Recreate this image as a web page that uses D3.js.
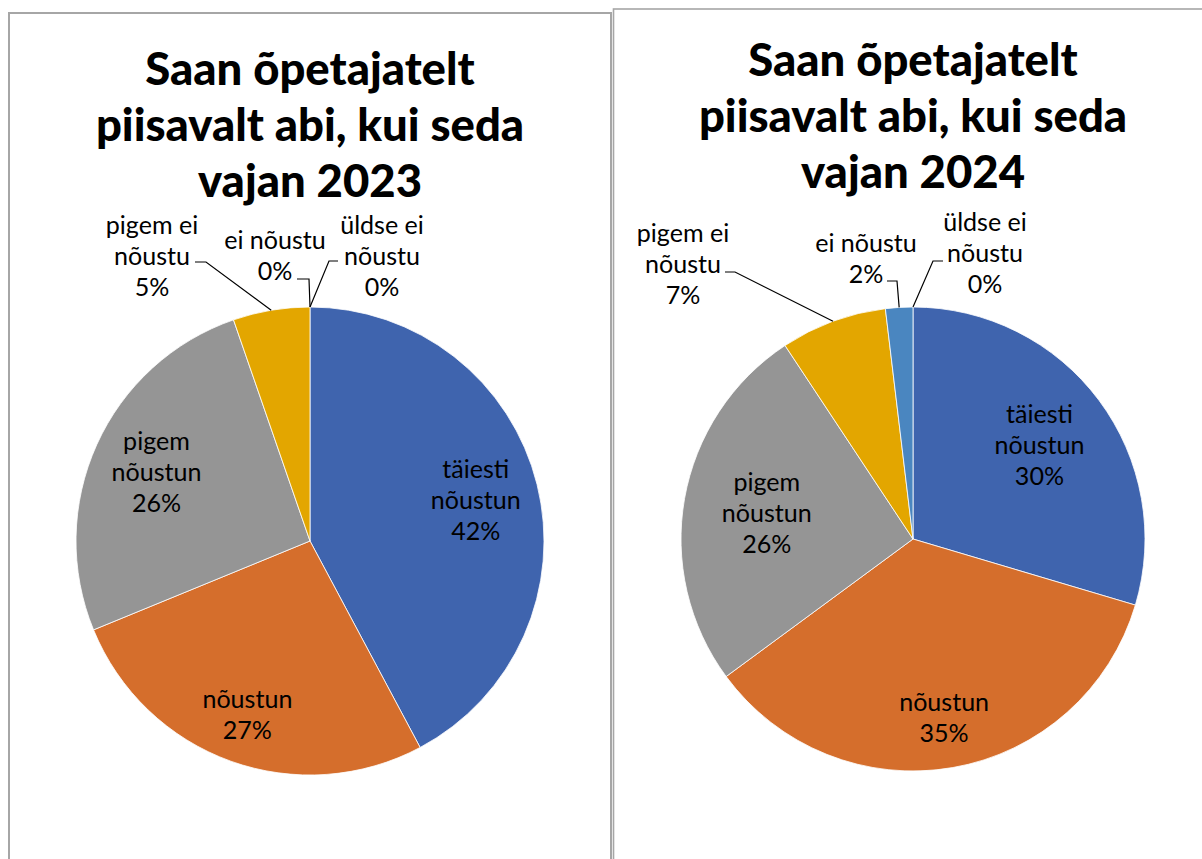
<!DOCTYPE html>
<html>
<head>
<meta charset="utf-8">
<script src="https://cdn.jsdelivr.net/npm/d3@7"></script>
<style>
  html, body { margin: 0; padding: 0; background: #fff; overflow: hidden; }
  svg { display: block; }
</style>
</head>
<body>
<script>
// categories and values
const categories = ["täiesti nõustun", "nõustun", "pigem nõustun", "pigem ei nõustu", "ei nõustu", "üldse ei nõustu"];
const labelLines = [["täiesti", "nõustun"], ["nõustun"], ["pigem", "nõustun"], ["pigem ei", "nõustu"], ["ei nõustu"], ["üldse ei", "nõustu"]];
const values2023 = [42.2, 26.6, 25.9, 5.3, 0, 0];
const values2024 = [29.6, 35.3, 25.8, 7.4, 1.9, 0];
const colors = ["#3f64ae", "#d56e2c", "#959595", "#e3a600", "#4a86c0", "#2f4f8a"];
const titles2023 = ["Saan õpetajatelt", "piisavalt abi, kui seda", "vajan 2023"];
const titles2024 = ["Saan õpetajatelt", "piisavalt abi, kui seda", "vajan 2024"];

const width = 1202, height = 859;
const fontFamily = "Lato, 'Open Sans', sans-serif";

const svg = d3.select("body").append("svg")
  .attr("width", width)
  .attr("height", height);

// fit font sizes to measured widths in the reference
function fitSize(text, targetWidth, weight) {
  const t = svg.append("text")
    .style("font-family", fontFamily)
    .style("font-weight", weight)
    .style("font-size", "100px")
    .text(text);
  const w = t.node().getComputedTextLength();
  t.remove();
  return 100 * targetWidth / w;
}
const titleSize = fitSize("Saan õpetajatelt", 327, "bold");
const labelSize = fitSize("nõustun", 90, "normal");
const lineGap = 31;

// panel frames
svg.append("rect").attr("x", 9).attr("y", 13).attr("width", 602).attr("height", 900)
  .attr("fill", "none").attr("stroke", "#a6a6a6").attr("stroke-width", 2);
svg.append("rect").attr("x", 613.5).attr("y", 9).attr("width", 700).attr("height", 900)
  .attr("fill", "none").attr("stroke", "#a6a6a6").attr("stroke-width", 1.6);

const charts = [
  {
    values: values2023, titles: titles2023, cx: 310, cy: 541, r: 234, titleY: 85,
    outside: {
      3: { text: [-158, -316], start: [-115, -279], elbow: [-104, -279] },
      4: { text: [-35, -301], start: [-13, -262], elbow: [-1, -262] },
      5: { text: [72, -316], start: [28, -280], elbow: [19, -280] }
    },
    inside: { 0: 0.73, 1: 0.79, 2: 0.72 }
  },
  {
    values: values2024, titles: titles2024, cx: 913, cy: 539, r: 232, titleY: 76,
    outside: {
      3: { text: [-230, -306], start: [-188, -267], elbow: [-178, -267] },
      4: { text: [-47, -296], start: [-26, -258], elbow: [-16, -258] },
      5: { text: [72, -317], start: [30, -278], elbow: [20, -278] }
    },
    inside: { 0: 0.68, 1: 0.78, 2: 0.64 }
  }
];

const pct = d3.format(".0%");

charts.forEach(c => {
  const g = svg.append("g").attr("transform", `translate(${c.cx},${c.cy})`);

  // title
  svg.append("text")
    .attr("x", c.cx)
    .attr("y", c.titleY)
    .attr("text-anchor", "middle")
    .style("font-family", fontFamily)
    .style("font-weight", "900")
    .style("font-size", titleSize + "px")
    .attr("fill", "#000")
    .selectAll("tspan")
    .data(c.titles)
    .join("tspan")
    .attr("x", c.cx)
    .attr("dy", (d, i) => i === 0 ? 0 : 56)
    .text(d => d);

  const total = d3.sum(c.values);
  const pie = d3.pie().sort(null).value(d => d.value);
  const arcs = pie(c.values.map((v, i) => ({ value: v, i })));
  const arc = d3.arc().innerRadius(0).outerRadius(c.r);

  g.selectAll("path.slice")
    .data(arcs)
    .join("path")
    .attr("class", "slice")
    .attr("d", arc)
    .attr("fill", d => colors[d.data.i])
    .attr("stroke", "#fff")
    .attr("stroke-width", d => d.data.value > 0 ? 0.8 : 0);

  arcs.forEach(d => {
    const i = d.data.i;
    const lines = labelLines[i].concat([pct(d.data.value / total)]);
    let tx, ty;
    if (c.inside[i] !== undefined) {
      const mid = d3.arc().innerRadius(c.r * c.inside[i]).outerRadius(c.r * c.inside[i]);
      const p = mid.centroid(d);
      tx = p[0];
      ty = p[1] - (lines.length - 1) * lineGap / 2;
    } else {
      const o = c.outside[i];
      tx = o.text[0];
      ty = o.text[1];
      // leader line from slice edge to label
      const edge = d3.arc().innerRadius(c.r).outerRadius(c.r).centroid(d);
      g.append("polyline")
        .attr("points", [edge, o.elbow, o.start].map(p => p.join(",")).join(" "))
        .attr("fill", "none")
        .attr("stroke", "#000")
        .attr("stroke-width", 1.2);
    }
    g.append("text")
      .attr("text-anchor", "middle")
      .style("font-family", fontFamily)
      .style("font-size", labelSize + "px")
      .attr("fill", "#000")
      .selectAll("tspan")
      .data(lines)
      .join("tspan")
      .attr("x", tx)
      .attr("y", (l, k) => ty + k * lineGap + labelSize * 0.36)
      .text(l => l);
  });
});
</script>
</body>
</html>
